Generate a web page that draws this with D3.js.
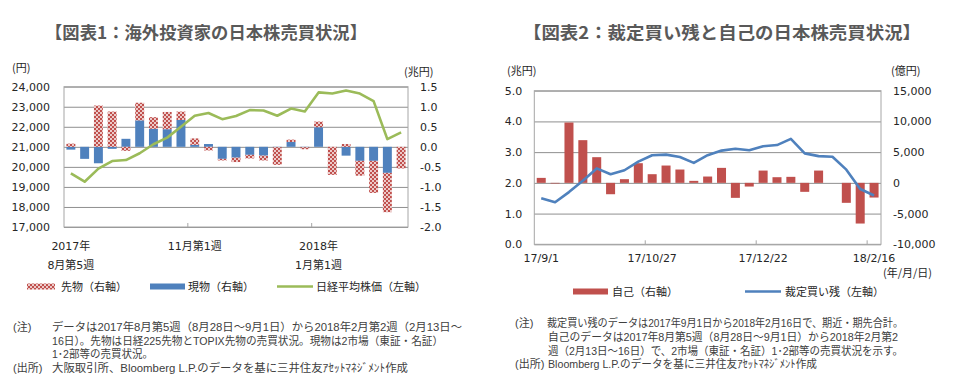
<!DOCTYPE html>
<html><head><meta charset="utf-8">
<script src="https://cdn.jsdelivr.net/npm/d3@7"></script>
<style>
html,body{margin:0;padding:0;background:#fff;}
svg{display:block;}
</style></head>
<body>
<svg id="chart" width="957" height="382"></svg>
<script>
// ---------- DATA ----------
const weekDates = ["17/9/1","17/9/8","17/9/15","17/9/22","17/9/29","17/10/6","17/10/13","17/10/20","17/10/27","17/11/3","17/11/10","17/11/17","17/11/24","17/12/1","17/12/8","17/12/15","17/12/22","17/12/29","18/1/5","18/1/12","18/1/19","18/1/26","18/2/2","18/2/9","18/2/16"];

// Chart 1 (兆円, right axis) and Nikkei (円, left axis)
const genbutsu = [-0.07,-0.30,-0.41,-0.05,0.20,0.66,0.45,0.44,0.67,0.05,0.07,-0.30,-0.27,-0.20,-0.22,-0.01,0.12,-0.01,0.49,0,-0.22,-0.35,-0.35,-0.65,0];
const sakimono = [0.08,0,1.03,0.88,-0.10,0.44,0.29,0.43,0.21,0.16,-0.09,-0.04,-0.11,-0.09,-0.12,-0.44,0.06,-0.05,0.14,-0.70,0.07,-0.37,-0.80,-0.98,-0.54];
const nikkei = [19680,19260,19910,20290,20340,20680,21130,21460,22000,22550,22690,22380,22540,22830,22815,22550,22910,22760,23715,23660,23810,23660,23280,21385,21720];
const c1LeftTicks = [17000,18000,19000,20000,21000,22000,23000,24000];
const c1RightTicks = [-2.0,-1.5,-1.0,-0.5,0.0,0.5,1.0,1.5];
const c1XLabels = [{i:0, lines:["2017年","8月第5週"]},{i:9, lines:["11月第1週"]},{i:18, lines:["2018年","1月第1週"]}];
const c1TickMarks = [9,18];

// Chart 2
const jiko = [810,-100,9820,6950,4180,-1850,600,3200,1410,2820,2170,325,1030,2440,-2440,-600,2000,920,980,-1460,2000,0,-3250,-6620,-2390];
const saiteiZan = [1.50,1.37,1.70,2.07,2.47,2.28,2.41,2.69,2.90,2.92,2.84,2.65,2.90,3.05,3.11,3.06,3.19,3.23,3.43,2.96,2.87,2.85,2.43,1.80,1.59];
const c2LeftTicks = [0.0,1.0,2.0,3.0,4.0,5.0];
const c2RightTicks = [-10000,-5000,0,5000,10000,15000];
const c2XLabels = [0,8,16,24];
const c2TickMarks = [8,16,24];

// ---------- STYLE ----------
const JP = "'Noto Sans CJK JP', sans-serif";
const NUM = "'DejaVu Sans', 'Noto Sans CJK JP', sans-serif";
const NOTE = "'Liberation Sans', 'Noto Sans CJK JP', sans-serif";
const txtCol = "#262626";
const noteCol = "#404040";
const gridCol = "#8f8f8f";
const borderCol = "#a6a6a6";
const blue = "#4F81BD", red = "#C0504D", green = "#9BBB59";

const svg = d3.select("#chart");
const defs = svg.append("defs");
const pat = defs.append("pattern").attr("id","dots").attr("patternUnits","userSpaceOnUse")
  .attr("width",4).attr("height",4);
pat.append("rect").attr("width",4).attr("height",4).attr("fill",red);
pat.append("circle").attr("cx",1).attr("cy",1).attr("r",0.95).attr("fill","#fff");
pat.append("circle").attr("cx",3).attr("cy",3).attr("r",0.95).attr("fill","#fff");

// Titles
svg.append("text").attr("x",45).attr("y",39).attr("font-family",JP).attr("font-weight","bold")
  .attr("font-size",17).attr("fill","#595959").attr("textLength",322).attr("lengthAdjust","spacingAndGlyphs")
  .text("【図表1：海外投資家の日本株売買状況】");
svg.append("text").attr("x",523).attr("y",39).attr("font-family",JP).attr("font-weight","bold")
  .attr("font-size",17).attr("fill","#595959").attr("textLength",398).attr("lengthAdjust","spacingAndGlyphs")
  .text("【図表2：裁定買い残と自己の日本株売買状況】");

function noteBlock(g, notes, ny){
  notes.forEach((n,k)=>{
    if(n.label) g.append("text").attr("x",n.lx).attr("y",ny[k]).attr("font-family",NOTE).attr("font-size",11).attr("fill",noteCol).text(n.label);
    g.append("text").attr("x",n.x).attr("y",ny[k]).attr("font-family",NOTE).attr("font-size",11).attr("fill",noteCol)
      .attr("textLength",n.w).attr("lengthAdjust","spacingAndGlyphs").text(n.t);
  });
}

// ================= CHART 1 =================
{
  const L=64, R=408, T=86.7, B=227;
  const idx = d3.range(weekDates.length);
  const x = d3.scaleBand().domain(idx).range([L,R]).paddingInner(0.35).paddingOuter(0.175);
  const step = x.step();
  const yL = d3.scaleLinear().domain([17000,24000]).range([B,T]);
  const yR = d3.scaleLinear().domain([-2,1.5]).range([B,T]);
  const g = svg.append("g");

  g.append("g").attr("transform",`translate(${L},0)`)
    .call(d3.axisLeft(yL).tickValues(c1LeftTicks).tickSize(-(R-L)).tickFormat(""))
    .call(s=>{s.select(".domain").remove(); s.selectAll("line").attr("stroke",gridCol);});
  g.append("rect").attr("x",L).attr("y",T).attr("width",R-L).attr("height",B-T)
    .attr("fill","none").attr("stroke",borderCol);

  const rows = idx.map(i=>({i, genbutsu:genbutsu[i], sakimono:sakimono[i]}));
  const stack = d3.stack().keys(["genbutsu","sakimono"]).offset(d3.stackOffsetDiverging)(rows);
  const fills = {genbutsu:blue, sakimono:"url(#dots)"};
  stack.forEach(layer=>{
    g.append("g").selectAll("rect").data(layer).join("rect")
      .attr("x",d=>x(d.data.i)).attr("width",x.bandwidth())
      .attr("y",d=>yR(Math.max(d[0],d[1]))).attr("height",d=>Math.abs(yR(d[0])-yR(d[1])))
      .attr("fill",fills[layer.key]);
  });

  g.append("path").datum(nikkei).attr("fill","none").attr("stroke",green).attr("stroke-width",2.6)
    .attr("stroke-linejoin","round")
    .attr("d",d3.line().x((d,i)=>x(i)+x.bandwidth()/2).y(d=>yL(d)));

  g.append("g").attr("transform",`translate(${L-14},0)`)
    .call(d3.axisLeft(yL).tickValues(c1LeftTicks).tickSize(0).tickPadding(0).tickFormat(d3.format(",")))
    .call(s=>{s.select(".domain").remove(); s.selectAll("text").attr("font-family",NUM).attr("font-size",11).attr("fill",txtCol);});
  g.append("g").attr("transform",`translate(${R+12},0)`)
    .call(d3.axisRight(yR).tickValues(c1RightTicks).tickSize(0).tickPadding(0))
    .call(s=>{s.select(".domain").remove(); s.selectAll("text").attr("font-family",NUM).attr("font-size",11).attr("fill",txtCol).text(d=>d3.format(".1f")(d).replace("−","-"));});

  g.append("text").attr("x",12).attr("y",72).attr("font-family",JP).attr("font-size",11).attr("fill",txtCol).text("(円)");
  g.append("text").attr("x",404).attr("y",76).attr("font-family",JP).attr("font-size",11).attr("fill",txtCol).text("(兆円)");

  g.selectAll(".xt").data(c1TickMarks).join("line")
    .attr("x1",d=>L+d*step).attr("x2",d=>L+d*step).attr("y1",B-4).attr("y2",B).attr("stroke",borderCol);
  c1XLabels.forEach(lb=>{
    const cx = x(lb.i)+x.bandwidth()/2;
    const t = g.append("text").attr("text-anchor","middle").attr("font-family",NUM).attr("font-size",11).attr("fill",txtCol);
    lb.lines.forEach((ln,k)=>t.append("tspan").attr("x",cx).attr("y",250+k*18.5).text(ln));
  });

  const ly = 286.5;
  g.append("rect").attr("x",27).attr("y",ly-3).attr("width",28).attr("height",6).attr("fill","url(#dots)");
  g.append("text").attr("x",61).attr("y",ly+4).attr("font-family",JP).attr("font-size",11).attr("fill",txtCol).text("先物（右軸）");
  g.append("rect").attr("x",150).attr("y",ly-3).attr("width",35).attr("height",6).attr("fill",blue);
  g.append("text").attr("x",188).attr("y",ly+4).attr("font-family",JP).attr("font-size",11).attr("fill",txtCol).text("現物（右軸）");
  g.append("line").attr("x1",277).attr("x2",313).attr("y1",ly).attr("y2",ly).attr("stroke",green).attr("stroke-width",2.6);
  g.append("text").attr("x",316).attr("y",ly+4).attr("font-family",JP).attr("font-size",11).attr("fill",txtCol).text("日経平均株価（左軸）");

  noteBlock(g, [
    {label:"(注)", lx:13, x:52, w:410, t:"データは2017年8月第5週（8月28日～9月1日）から2018年2月第2週（2月13日～"},
    {x:52, w:391, t:"16日）。先物は日経225先物とTOPIX先物の売買状況。現物は2市場（東証・名証）"},
    {x:52, w:101, t:"1･2部等の売買状況。"},
    {label:"(出所)", lx:13, x:52, w:356, t:"大阪取引所、Bloomberg L.P.のデータを基に三井住友ｱｾｯﾄﾏﾈｼﾞﾒﾝﾄ作成"}
  ], [331,344.5,358,371.5]);
}

// ================= CHART 2 =================
{
  const L=534.3, R=881, T=90.7, B=244.3;
  const idx = d3.range(weekDates.length);
  const x = d3.scaleBand().domain(idx).range([L,R]).paddingInner(0.35).paddingOuter(0.175);
  const step = x.step();
  const yL = d3.scaleLinear().domain([0,5]).range([B,T]);
  const yR = d3.scaleLinear().domain([-10000,15000]).range([B,T]);
  const g = svg.append("g");

  g.append("g").attr("transform",`translate(${L},0)`)
    .call(d3.axisLeft(yL).tickValues(c2LeftTicks).tickSize(-(R-L)).tickFormat(""))
    .call(s=>{s.select(".domain").remove(); s.selectAll("line").attr("stroke",gridCol);});
  g.append("rect").attr("x",L).attr("y",T).attr("width",R-L).attr("height",B-T)
    .attr("fill","none").attr("stroke",borderCol);

  g.append("g").selectAll("rect").data(jiko).join("rect")
    .attr("x",(d,i)=>x(i)).attr("width",x.bandwidth())
    .attr("y",d=>yR(Math.max(0,d))).attr("height",d=>Math.abs(yR(d)-yR(0)))
    .attr("fill",red);

  g.append("path").datum(saiteiZan).attr("fill","none").attr("stroke",blue).attr("stroke-width",2.6)
    .attr("stroke-linejoin","round")
    .attr("d",d3.line().x((d,i)=>x(i)+x.bandwidth()/2).y(d=>yL(d)));

  g.append("g").attr("transform",`translate(${L-12},0)`)
    .call(d3.axisLeft(yL).tickValues(c2LeftTicks).tickSize(0).tickPadding(0).tickFormat(d3.format(".1f")))
    .call(s=>{s.select(".domain").remove(); s.selectAll("text").attr("font-family",NUM).attr("font-size",11).attr("fill",txtCol);});
  g.append("g").attr("transform",`translate(${R+12},0)`)
    .call(d3.axisRight(yR).tickValues(c2RightTicks).tickSize(0).tickPadding(0))
    .call(s=>{s.select(".domain").remove(); s.selectAll("text").attr("font-family",NUM).attr("font-size",11).attr("fill",txtCol).text(d=>d3.format(",")(d).replace("−","-"));});

  g.append("text").attr("x",507).attr("y",75).attr("font-family",JP).attr("font-size",11).attr("fill",txtCol).text("(兆円)");
  g.append("text").attr("x",891).attr("y",75).attr("font-family",JP).attr("font-size",11).attr("fill",txtCol).text("(億円)");

  g.selectAll(".xt").data(c2TickMarks).join("line")
    .attr("x1",d=>L+d*step).attr("x2",d=>L+d*step).attr("y1",B-4).attr("y2",B).attr("stroke",borderCol);
  g.selectAll(".xl").data(c2XLabels).join("text")
    .attr("x",d=>x(d)+x.bandwidth()/2).attr("y",262).attr("text-anchor","middle")
    .attr("font-family",NUM).attr("font-size",11).attr("fill",txtCol).text(d=>weekDates[d]);
  g.append("text").attr("x",932).attr("y",277).attr("text-anchor","end").attr("font-family",JP).attr("font-size",11).attr("fill",txtCol).text("(年/月/日)");

  const ly = 291.5;
  g.append("rect").attr("x",573).attr("y",ly-3).attr("width",35).attr("height",6).attr("fill",red);
  g.append("text").attr("x",612).attr("y",ly+4).attr("font-family",JP).attr("font-size",11).attr("fill",txtCol).text("自己（右軸）");
  g.append("line").attr("x1",745).attr("x2",781).attr("y1",ly).attr("y2",ly).attr("stroke",blue).attr("stroke-width",2.6);
  g.append("text").attr("x",785).attr("y",ly+4).attr("font-family",JP).attr("font-size",11).attr("fill",txtCol).text("裁定買い残（左軸）");

  noteBlock(g, [
    {label:"(注)", lx:515, x:547, w:356, t:"裁定買い残のデータは2017年9月1日から2018年2月16日で、期近・期先合計。"},
    {x:548, w:350, t:"自己のデータは2017年8月第5週（8月28日～9月1日）から2018年2月第2"},
    {x:548, w:355, t:"週（2月13日～16日）で、2市場（東証・名証）1･2部等の売買状況を示す。"},
    {label:"(出所)", lx:515, x:548, w:269, t:"Bloomberg L.P.のデータを基に三井住友ｱｾｯﾄﾏﾈｼﾞﾒﾝﾄ作成"}
  ], [326.5,340.5,354.5,368]);
}
</script>
</body></html>
